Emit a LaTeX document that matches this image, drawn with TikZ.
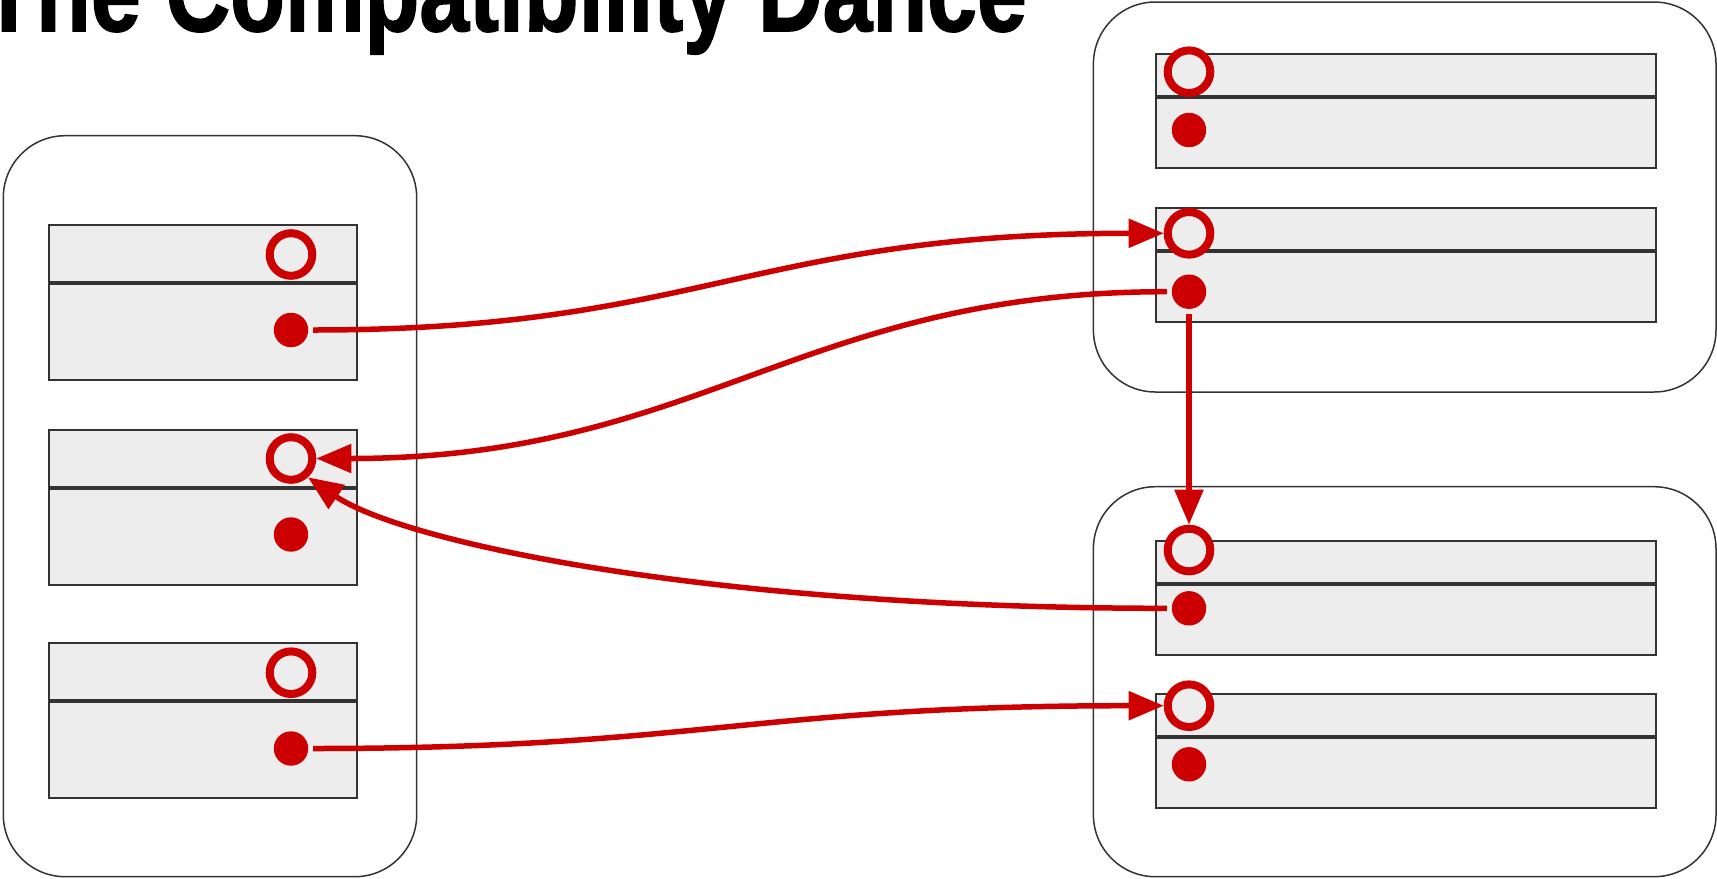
\documentclass[tikz,border=0pt]{standalone}
\usepackage{fontspec}
\newfontfamily\titlefont{Liberation Sans}[BoldFeatures={FakeBold=1.5}]
\usetikzlibrary{arrows.meta}
\definecolor{redc}{HTML}{CC0000}
\definecolor{boxgray}{HTML}{EDEDED}
\definecolor{edgec}{HTML}{333333}
\begin{document}
\begin{tikzpicture}[x=0.5pt,y=-0.5pt,
  cont/.style={draw=edgec, line width=0.75pt, rounded corners=31pt, fill=white, inner sep=0pt},
  hdr/.style={draw=edgec, line width=1pt, fill=boxgray, inner sep=0pt, anchor=north},
  ring/.style={circle, draw=redc, line width=4pt, fill=boxgray, minimum size=21.3pt, inner sep=0pt},
  dot/.style={circle, fill=redc, minimum size=17.2pt, inner sep=0pt, outer sep=2.5pt},
  conn/.style={draw=redc, line width=2.75pt, -{Triangle[length=17.5pt,width=14pt]}}
]
\useasboundingbox (0,0) rectangle (1717,878);
\clip (0,0) rectangle (1717,878);
\fill[white] (0,0) rectangle (1717,878);

% title
\node[anchor=base west, inner sep=0pt, font=\titlefont\bfseries\fontsize{44.8pt}{50pt}\selectfont] (title) at (-19,31) {\scalebox{1}[1.25]{The Compatibility Dance}};

% containers
\node[cont, minimum width=206.7pt, minimum height=370.5pt] (L) at (210,506.2) {};
\node[cont, minimum width=311.3pt, minimum height=195pt] (RT) at (1404.7,197) {};
\node[cont, minimum width=311.3pt, minimum height=195pt] (RB) at (1404.7,681.7) {};

% left boxes
\node[hdr, minimum width=153.85pt, minimum height=28.5pt] (h1) at (202.85,223.5) {};
\node[hdr, minimum width=153.85pt, minimum height=48pt] (b1) at (h1.south) {};
\node[hdr, minimum width=153.85pt, minimum height=28.5pt] (h2) at (202.85,428.5) {};
\node[hdr, minimum width=153.85pt, minimum height=48pt] (b2) at (h2.south) {};
\node[hdr, minimum width=153.85pt, minimum height=28.5pt] (h3) at (202.85,642) {};
\node[hdr, minimum width=153.85pt, minimum height=48pt] (b3) at (h3.south) {};

% right boxes
\node[hdr, minimum width=250pt, minimum height=21pt] (hA) at (1406,53) {};
\node[hdr, minimum width=250pt, minimum height=35pt] (bA) at (hA.south) {};
\node[hdr, minimum width=250pt, minimum height=21pt] (hB) at (1406,206.7) {};
\node[hdr, minimum width=250pt, minimum height=35pt] (bB) at (hB.south) {};
\node[hdr, minimum width=250pt, minimum height=21pt] (hC) at (1406,540) {};
\node[hdr, minimum width=250pt, minimum height=35pt] (bC) at (hC.south) {};
\node[hdr, minimum width=250pt, minimum height=21pt] (hD) at (1406,693.3) {};
\node[hdr, minimum width=250pt, minimum height=35pt] (bD) at (hD.south) {};

% rings and dots, left
\node[ring] (c1) at (291,254.5) {};
\node[dot]  (d1) at (291,330) {};
\node[ring] (c2) at (291,458.5) {};
\node[dot]  (d2) at (291,534.5) {};
\node[ring] (c3) at (291,672.7) {};
\node[dot]  (d3) at (291,748.5) {};

% rings and dots, right
\node[ring] (cA) at (1189,71.7) {};
\node[dot]  (dA) at (1189,130) {};
\node[ring] (cB) at (1189,233.3) {};
\node[dot]  (dB) at (1189,291.7) {};
\node[ring] (cC) at (1189,550) {};
\node[dot]  (dC) at (1189,608.3) {};
\node[ring] (cD) at (1189,705.7) {};
\node[dot]  (dD) at (1189,764.3) {};

% connectors
\draw[conn] (d1.east) .. controls +(387,0) and +(-413,0) .. (cB.west);
\draw[conn] (dB.west) .. controls +(-366,0) and +(383,0) .. (c2.east);
\draw[conn] (dB.south) -- (cC.north);
\draw[conn] (dC.west) .. controls +(-467,0) and +(92,63) .. (c2.-48);
\draw[conn] (d3.east) .. controls +(387,0) and +(-413,0) .. (cD.west);
\end{tikzpicture}
\end{document}
